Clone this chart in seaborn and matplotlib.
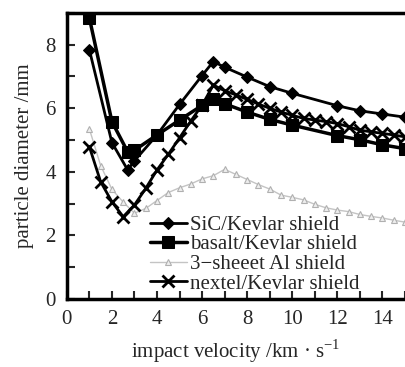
import matplotlib
matplotlib.use("Agg")
import matplotlib.pyplot as plt
import seaborn as sns
import pandas as pd
from matplotlib.ticker import MultipleLocator

# ---- data ----
sic_x = [1, 2, 2.7, 3, 4, 5, 6, 6.5, 7, 8, 9, 10, 12, 13, 14, 15]
sic_y = [7.84, 4.92, 4.06, 4.35, 5.16, 6.12, 7.03, 7.47, 7.29, 6.98, 6.68, 6.47, 6.08, 5.92, 5.82, 5.72]

basalt_x = [1, 2, 2.7, 3, 4, 5, 6, 6.5, 7, 8, 9, 10, 12, 13, 14, 15]
basalt_y = [8.84, 5.58, 4.63, 4.68, 5.16, 5.63, 6.09, 6.28, 6.14, 5.88, 5.65, 5.47, 5.14, 5.01, 4.85, 4.73]

al_x = [1, 1.5, 2, 2.5, 3, 3.5, 4, 4.5, 5, 5.5, 6, 6.5, 7, 7.5, 8, 8.5, 9, 9.5,
        10, 10.5, 11, 11.5, 12, 12.5, 13, 13.5, 14, 14.5, 15]
al_y = [5.35, 4.2, 3.45, 3.05, 2.7, 2.85, 3.1, 3.35, 3.5, 3.62, 3.78, 3.88, 4.08, 3.92,
        3.76, 3.6, 3.46, 3.27, 3.2, 3.12, 2.98, 2.87, 2.8, 2.75, 2.66, 2.6, 2.55, 2.48, 2.42]

nextel_x = [1, 1.5, 2, 2.5, 3, 3.5, 4, 4.5, 5, 5.5, 6, 6.5, 7, 7.5, 8, 8.5, 9, 9.5,
            10, 10.5, 11, 11.5, 12, 12.5, 13, 13.5, 14, 14.5, 15]
nextel_y = [4.79, 3.69, 3.06, 2.59, 2.96, 3.48, 4.06, 4.55, 5.07, 5.6, 6.1, 6.73, 6.55,
            6.42, 6.28, 6.13, 6.0, 5.88, 5.78, 5.68, 5.63, 5.58, 5.52, 5.42, 5.31, 5.26,
            5.21, 5.16, 5.1]

labels = ["SiC/Kevlar shield", "basalt/Kevlar shield", "3\u2212sheeet Al shield", "nextel/Kevlar shield"]
x_ticks = [0, 2, 4, 6, 8, 10, 12, 14]
y_ticks = [0, 2, 4, 6, 8]

sns.set_style("ticks")
plt.rcParams["font.family"] = ["Liberation Serif", "DejaVu Serif"]
plt.rcParams["mathtext.fontset"] = "custom"
plt.rcParams["mathtext.rm"] = "Liberation Serif"

fig = plt.figure(figsize=(4.05, 3.67), dpi=100)
ax = fig.add_axes([0.165, 0.185, 0.835, 0.78])

series = [
    (sic_x, sic_y, labels[0], dict(color="black", marker="D", markersize=6.5, linewidth=2.0,
                                    markeredgecolor="black", markerfacecolor="black")),
    (basalt_x, basalt_y, labels[1], dict(color="black", marker="s", markersize=9, linewidth=2.5,
                                          markeredgecolor="black", markerfacecolor="black")),
    (al_x, al_y, labels[2], dict(color="#c4c4c4", marker="^", markersize=5, linewidth=1.0,
                                  markeredgecolor="#b0b0b0", markerfacecolor="#eeeeee",
                                  markeredgewidth=0.8)),
    (nextel_x, nextel_y, labels[3], dict(color="black", marker="x", markersize=9, linewidth=2.0,
                                          markeredgewidth=2.0, markeredgecolor="black")),
]
for xs, ys, lab, kw in series:
    df = pd.DataFrame({"x": xs, "y": ys})
    sns.lineplot(data=df, x="x", y="y", ax=ax, label=lab, estimator=None, sort=False, **kw)

ax.set_xlim(0, 15)
ax.set_ylim(0, 9)
ax.set_xticks(x_ticks)
ax.set_yticks(y_ticks)
ax.xaxis.set_minor_locator(MultipleLocator(1))
ax.yaxis.set_minor_locator(MultipleLocator(1))
ax.tick_params(axis="both", which="both", direction="in", labelsize=15, width=1.5)
ax.tick_params(axis="both", which="major", length=6, pad=8)
ax.tick_params(axis="both", which="minor", length=6)
ax.tick_params(top=False, right=False, which="both")

for s in ["left", "bottom", "top"]:
    ax.spines[s].set_linewidth(2.5)
    ax.spines[s].set_color("black")
ax.spines["right"].set_visible(False)

ax.set_xlabel("impact velocity /km \u00b7 s$^{-1}$", fontsize=15, labelpad=6)
ax.set_ylabel("particle diameter /mm", fontsize=15, labelpad=8)

leg = ax.legend(loc="lower left", bbox_to_anchor=(0.22, -0.01), frameon=False, fontsize=15,
                handlelength=1.8, handletextpad=0.15, labelspacing=0.0, borderaxespad=0.0)

fig.savefig("out.png", dpi=100)
